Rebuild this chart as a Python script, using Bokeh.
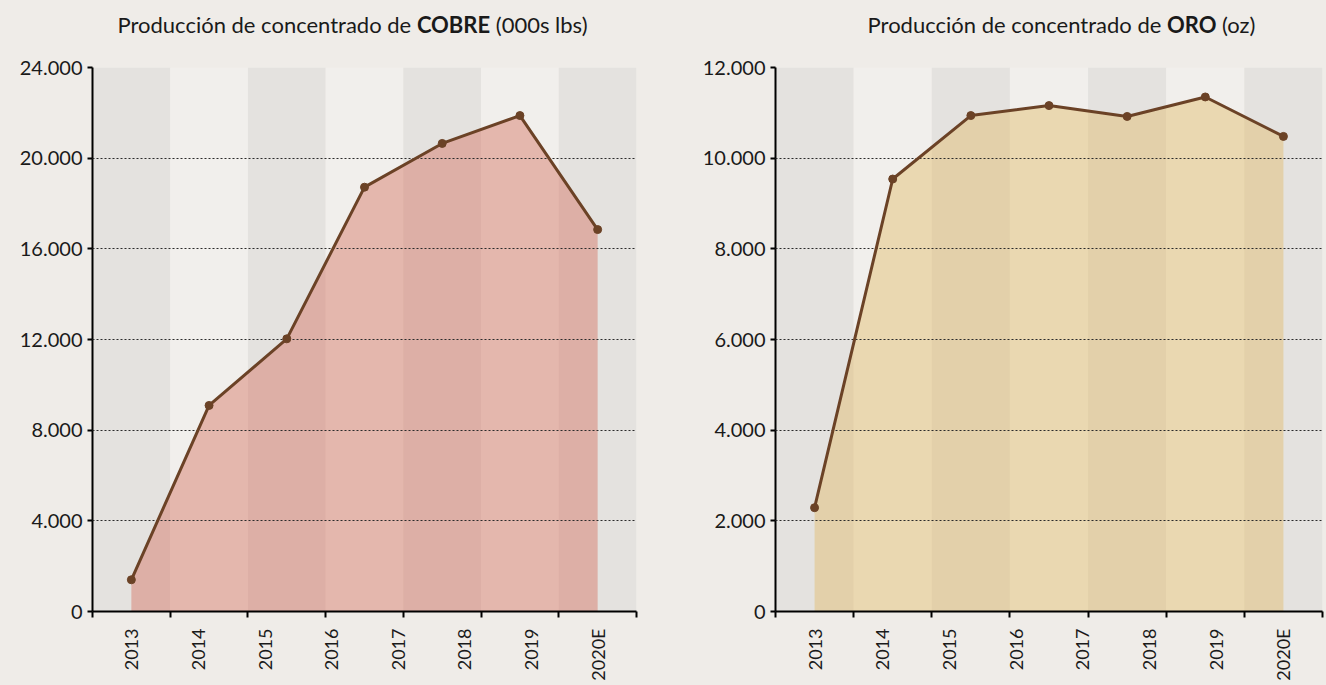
import math
from bokeh.plotting import figure
from bokeh.layouts import row, column
from bokeh.models import Range1d, FixedTicker, Div
from bokeh.embed import file_html
from bokeh.resources import INLINE

# ---- data ----
year_labels = ["2013", "2014", "2015", "2016", "2017", "2018", "2019", "2020E"]
cobre_values = [1400, 9090, 12030, 18720, 20650, 21880, 16850]
oro_values = [2290, 9540, 10940, 11160, 10920, 11350, 10480]
cobre_ticks = [0, 4000, 8000, 12000, 16000, 20000, 24000]
oro_ticks = [0, 2000, 4000, 6000, 8000, 10000, 12000]
cobre_title = ["Producción de concentrado de", "COBRE", "(000s lbs)"]
oro_title = ["Producción de concentrado de", "ORO", "(oz)"]

FONT = "Lato"
BG = "#efece8"
BAND_DARK = "#e4e2df"
BAND_LIGHT = "#f1efec"
LINE = "#6b4226"


def fmt(v):
    return f"{v:,}".replace(",", ".")


def panel(values, yticks, fill, title, border_left, border_right, frame_w, pad_left):
    n = len(values)
    m = len(year_labels)
    step = (m - 1) / (n - 1)
    xs = [i * step for i in range(n)]
    half = step / 2
    ymax = yticks[-1]
    p = figure(frame_width=frame_w, frame_height=544,
               min_border_left=border_left, min_border_right=border_right,
               min_border_top=17, min_border_bottom=62,
               x_range=Range1d(-half, xs[-1] + half), y_range=Range1d(0, ymax),
               output_backend="svg", toolbar_location=None)
    p.background_fill_color = BG
    p.border_fill_color = BG
    p.outline_line_color = None

    # alternating bands
    lefts = [x - half for x in xs]
    rights = [x + half for x in xs]
    cols = [BAND_DARK if i % 2 == 0 else BAND_LIGHT for i in range(n)]
    p.quad(left=lefts, right=rights, bottom=0, top=ymax, color=cols, line_color=None)

    # area
    p.varea(x=xs, y1=[0] * n, y2=values, fill_color=fill, fill_alpha=0.4)

    # line + markers on top of the grid
    ln = p.line(xs, values, line_color=LINE, line_width=3)
    ln.level = "overlay"
    sc = p.scatter(xs, values, size=8, fill_color=LINE, line_color=LINE)
    sc.level = "overlay"

    # grid
    p.xgrid.visible = False
    p.ygrid.ticker = FixedTicker(ticks=yticks[1:])
    p.ygrid.grid_line_color = "#2a2a2a"
    p.ygrid.grid_line_dash = "2 2"
    p.ygrid.grid_line_width = 1
    p.ygrid.level = "annotation"

    # y axis
    ya = p.yaxis[0]
    ya.ticker = FixedTicker(ticks=yticks)
    ya.major_label_overrides = {t: fmt(t) for t in yticks}
    ya.major_label_text_font = FONT
    ya.major_label_text_font_size = "20px"
    ya.major_label_text_color = "#1a1a1a"
    ya.axis_line_color = "black"
    ya.axis_line_width = 2
    ya.major_tick_line_color = "black"
    ya.major_tick_line_width = 2
    ya.major_tick_in = 0
    ya.major_tick_out = 5
    ya.minor_tick_line_color = None
    ya.major_label_standoff = 5

    # x axis: ticks at band edges, labels spread evenly across the data span
    xa = p.xaxis[0]
    edges = lefts + [rights[-1]]
    xa.ticker = FixedTicker(ticks=list(range(m)), minor_ticks=edges)
    xa.major_label_overrides = {i: lab for i, lab in enumerate(year_labels)}
    xa.major_label_orientation = math.pi / 2
    xa.major_label_text_font = FONT
    xa.major_label_text_font_size = "18px"
    xa.major_label_text_color = "#1a1a1a"
    xa.major_tick_line_color = None
    xa.major_tick_out = 0
    xa.major_tick_in = 0
    xa.minor_tick_line_color = "black"
    xa.minor_tick_line_width = 2
    xa.minor_tick_in = 0
    xa.minor_tick_out = 6
    xa.axis_line_color = "black"
    xa.axis_line_width = 2
    xa.major_label_standoff = 11

    fig_w = border_left + frame_w + border_right
    title_html = f"{title[0]} <b>{title[1]}</b> {title[2]}"
    d = Div(text=title_html, width=fig_w, height=40,
            styles={"font-family": FONT, "font-size": "22px", "color": "#1a1a1a",
                    "text-align": "center", "line-height": "26px",
                    "padding-top": "7px", "padding-left": f"{pad_left}px",
                    "box-sizing": "border-box", "width": f"{fig_w}px",
                    "background-color": BG})
    return column(d, p, spacing=0)


c1 = panel(cobre_values, cobre_ticks, "#d36551", cobre_title, 92, 25, 544, 34)
c2 = panel(oro_values, oro_ticks, "#e0b65b", oro_title, 104, 2, 547, 118)

layout = row(c1, c2, spacing=0)

html = file_html(layout, INLINE)
html = html.replace("<body>", '<body style="background-color:#efece8;">')
open("out.html", "w").write(html)
